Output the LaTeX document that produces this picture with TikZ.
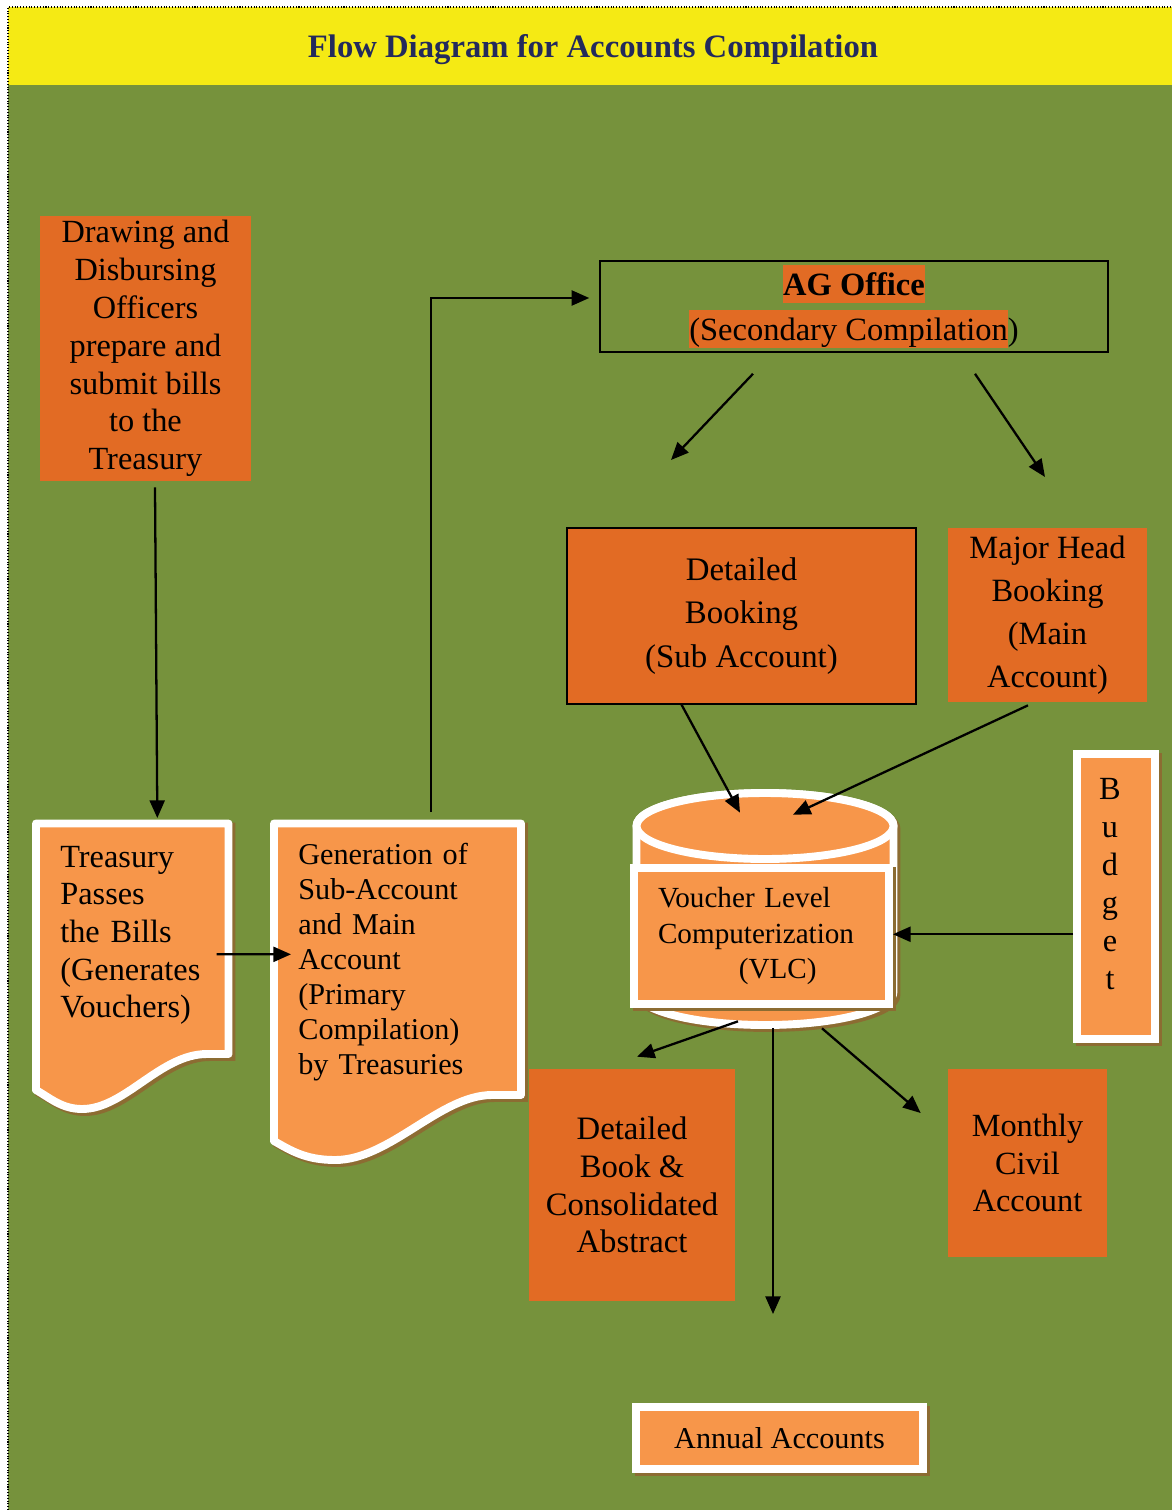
\documentclass[tikz,border=0pt]{standalone}
\usepackage{fontspec}
\setmainfont{Liberation Serif}
\usepackage{xcolor}
\usetikzlibrary{arrows.meta,positioning,shadows}

\definecolor{fieldgreen}{RGB}{118,146,60}
\definecolor{bannerye}{RGB}{245,234,20}
\definecolor{titlenavy}{RGB}{35,42,92}
\definecolor{darkor}{RGB}{226,107,36}
\definecolor{lightor}{RGB}{247,150,74}
\definecolor{shadowbr}{RGB}{140,108,50}

\newcommand{\hlbox}[1]{{\setlength{\fboxsep}{0pt}\colorbox{darkor}{\rule[-4.5pt]{0pt}{22pt}#1}}}

\begin{document}
\begin{tikzpicture}[
  x=0.02cm, y=-0.02cm,
  arr/.style={-{Triangle[length=10pt,width=8.5pt]}, line width=1.3pt, black},
  softshadow/.style={
    drop shadow={shadow xshift=0.06cm, shadow yshift=-0.06cm,
      fill=shadowbr, draw=shadowbr, line width=4.5pt, opacity=1}
  },
  plain/.style={
    rectangle,
    fill=darkor,
    inner sep=0pt,
    align=center,
    font=\fontsize{18.4}{21.5}\selectfont
  },
  framed/.style={
    rectangle,
    fill=lightor,
    draw=white,
    line width=4.5pt,
    inner sep=0pt,
    align=center,
    softshadow,
    font=\fontsize{18.4}{21.5}\selectfont
  },
  docpage/.style={
    fill=lightor,
    draw=white,
    line width=4.5pt,
    line join=round,
    softshadow
  },
  doctext/.style={
    rectangle,
    anchor=north west,
    inner xsep=0.48cm,
    inner ysep=0pt,
    align=left
  }
]

% --- BACKGROUND AND BANNER ---
\useasboundingbox (0,0) rectangle (1172,1510);
\fill[white] (0,0) rectangle (1172,1510);
\fill[fieldgreen] (8,85) rectangle (1172,1510);
\fill[bannerye] (8,7) rectangle (1172,85);
\draw[densely dotted, line width=0.6pt] (8,1510) -- (8,7) -- (1172,7);
\node[font=\bfseries\fontsize{18.6}{22}\selectfont, text=titlenavy] (title) at (593,50) {Flow Diagram for Accounts Compilation};

% --- TREASURY SIDE (Left) ---
\node[plain, minimum width=4.22cm, minimum height=5.3cm] (ddo) at (145.5,348.5) {
    Drawing and\\Disbursing\\Officers\\prepare and\\submit bills\\to the\\Treasury
};

\path[docpage] (36,823.5) -- (228.5,823.5) -- (228.5,1054) -- (207,1054)
    .. controls (160,1054) and (125,1109) .. (82,1109)
    .. controls (62,1109) and (50,1098) .. (36,1090) -- cycle;
\node[doctext, text width=2.89cm, minimum height=4.36cm, font=\fontsize{18.4}{21.4}\selectfont] (treas) at (36,826) {
    Treasury\\Passes\\the Bills\\(Generates\\Vouchers)
};

\path[docpage] (274,823.5) -- (521,823.5) -- (521,1095) -- (492,1095)
    .. controls (440,1095) and (390,1160) .. (335,1160)
    .. controls (305,1160) and (290,1150) .. (274,1141) -- cycle;
\node[doctext, text width=3.98cm, minimum height=5.43cm, font=\fontsize{17.2}{19.85}\selectfont] (gen) at (274,826) {
    Generation of\\Sub-Account\\and Main\\Account\\(Primary\\Compilation)\\by Treasuries
};

\draw[arr] ([shift={(9.5,6)}]ddo.south) -- ([shift={(24.75,-8)}]treas.north);
\draw[arr] ([shift={(-12.5,19)}]treas.east) -- ([shift={(17,-7.75)}]gen.west);

% --- AG OFFICE (Top Right) ---
\node[draw=black, line width=0.9pt, minimum width=10.16cm, minimum height=1.82cm, inner sep=0pt,
      align=center, font=\fontsize{18.5}{25.5}\selectfont] (ag) at (854,306.5) {
    \hlbox{\textbf{AG Office}}\\\hlbox{(Secondary Compilation})
};

\draw[arr] ([shift={(33.5,-14)}]gen.north) |- ([shift={(-10,-8.5)}]ag.west);

\coordinate (agtipl) at (671,460);
\coordinate (agtipr) at (1045,477);
\draw[arr] ([shift={(-101,21)}]ag.south) -- (agtipl);
\draw[arr] ([shift={(121,21)}]ag.south) -- (agtipr);

\node[plain, draw=black, line width=0.8pt, minimum width=6.98cm, minimum height=3.52cm,
      font=\fontsize{18.7}{24.7}\selectfont] (detbook) at (741.5,616) {
    Detailed\\Booking\\(Sub Account)
};
\node[plain, minimum width=3.98cm, minimum height=3.48cm, font=\fontsize{18.5}{24.5}\selectfont] (major) at (1047.5,615) {
    Major Head\\Booking\\(Main\\Account)
};

% --- VLC DATABASE (Centre) ---
\node[minimum width=5.14cm, minimum height=4.64cm, inner sep=0pt] (vlcdb) at (765,909) {};
\path[docpage] (636.5,826) -- (636.5,992)
    arc[start angle=180, end angle=360, x radius=2.57cm, y radius=0.66cm] -- (893.5,826)
    arc[start angle=0, end angle=180, x radius=2.57cm, y radius=0.66cm] -- cycle;
\draw[white, line width=4.5pt, fill=lightor] (765,826) ellipse [x radius=2.57cm, y radius=0.66cm];

\node[framed, align=left, text width=4.14cm, inner xsep=0.48cm, minimum height=2.71cm,
      font=\fontsize{16.6}{20}\selectfont] (vlc) at (761.5,936) {
    Voucher Level\\Computerization\\\hspace*{46pt}(VLC)
};

\node[framed, minimum width=1.56cm, minimum height=5.7cm] (budget) at (1116,896.5) {};
\node[font=\fontsize{18.4}{21.65}\selectfont, align=center, inner sep=0pt] (budgetlbl) at (1110,884) {
    B\\u\\d\\g\\e\\t
};

\draw[arr] ([shift={(-60.5,-1)}]detbook.south) -- ([shift={(-25,20)}]vlcdb.north);
\draw[arr] ([shift={(-19.5,3)}]major.south) -- ([shift={(28,22)}]vlcdb.north);
\draw[arr] ([yshift=0.035cm]budget.west |- vlc.east) -- ([yshift=0.035cm]vlc.east);

% --- OUTPUTS (Bottom) ---
\node[plain, minimum width=4.12cm, minimum height=4.64cm, font=\fontsize{18.6}{21.5}\selectfont] (cons) at (632,1185) {
    Detailed\\Book \&\\Consolidated\\Abstract
};
\node[plain, minimum width=3.18cm, minimum height=3.76cm, font=\fontsize{18.4}{21.3}\selectfont] (monthly) at (1027.5,1163) {
    Monthly\\Civil\\Account
};
\node[framed, minimum width=5.74cm, minimum height=1.24cm, font=\fontsize{17.2}{20}\selectfont] (annual) at (779.5,1438) {Annual Accounts};

\draw[arr] ([shift={(-27,-4)}]vlcdb.south) -- ([shift={(5,-12)}]cons.north);
\draw[arr] ([shift={(8,3)}]vlcdb.south) -- ([shift={(-6.5,-89)}]annual.north);
\draw[arr] ([shift={(57,3)}]vlcdb.south) -- ([shift={(-27,-50)}]monthly.west);

\end{tikzpicture}
\end{document}
